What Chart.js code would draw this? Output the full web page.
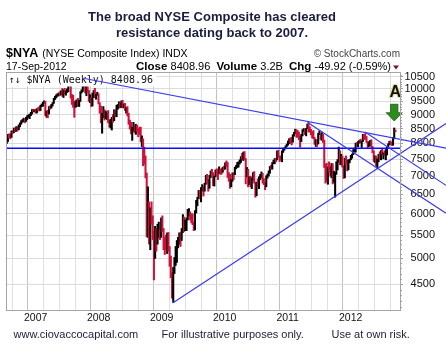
<!DOCTYPE html>
<html><head><meta charset="utf-8">
<script src="https://cdn.jsdelivr.net/npm/chart.js@4/dist/chart.umd.min.js"></script>
<style>html,body{margin:0;padding:0;background:#fff}#wrap{width:446px;height:352px}</style>
</head><body><div id="wrap"><canvas id="c" width="446" height="352"></canvas></div>
<script>
// ---------- DATA ----------
const titleLines = ['The broad NYSE Composite has cleared', 'resistance dating back to 2007.'];
const WEEK_START = '2006-07-17';           // first weekly bar (Monday)
// weekly bars: [high, low, close]
const w2006 = [[8180,7990,8100],[8300,8060,8280],[8320,8180,8250],[8310,8150,8200],[8420,8200,8400],[8430,8330,8370],[8520,8360,8500],[8520,8390,8430],[8570,8400,8550],[8570,8420,8460],[8630,8460,8610],[8700,8560,8680],[8780,8650,8760],[8820,8720,8790],[8870,8740,8840],[8850,8700,8760],[8900,8750,8850],[8960,8820,8940],[8990,8900,8960],[9020,8850,8980],[9080,8960,9040],[9190,9020,9180],[9200,9100,9130],[9180,9100,9140]];
const w2007 = [[9200,9050,9120],[9220,9060,9200],[9260,9170,9190],[9290,9130,9180],[9350,9150,9340],
[9400,9300,9360],[9470,9310,9460],[9520,9420,9480],[9500,8960,9010],
[9130,8900,9080],[9160,8880,9010],[9300,9020,9290],[9330,9200,9250],
[9380,9240,9370],[9450,9320,9440],[9620,9420,9600],[9700,9570,9650],[9760,9630,9740],
[9800,9690,9760],[9830,9720,9810],[9880,9720,9760],[9920,9760,9900],
[10010,9700,9780],[9960,9650,9950],[10020,9800,9830],[9920,9740,9850],
[10000,9850,9980],[10230,9880,10200],[10310,10120,10190],[10220,9620,9680],[9770,9380,9520],
[9740,9270,9400],[9480,8900,9280],[9520,9270,9480],[9560,9300,9520],
[9620,9330,9350],[9540,9300,9520],[9880,9500,9860],[9960,9830,9900],
[10150,9890,10130],[10250,10080,10140],[10190,9830,9850],[10100,9720,10080],[10390,9850,9920],
[9940,9500,9560],[9760,9450,9620],[9640,9300,9430],[9830,9320,9800],
[9930,9650,9920],[10020,9640,9720],[9780,9580,9760],[9860,9730,9790],[9800,9400,9420]];
const w2008 = [[9450,9050,9200],[9320,8700,8750],[9050,8340,9000],[9300,8880,9150],
[9180,8800,8880],[9130,8850,8960],[9060,8820,8990],[9150,8700,8720],
[8800,8550,8580],[8830,8520,8650],[8900,8450,8850],[9000,8720,8790],[9180,8780,9120],
[9170,8930,8960],[9350,8920,9300],[9380,9200,9350],[9480,9250,9420],
[9450,9250,9290],[9520,9260,9490],[9540,9250,9280],[9400,9250,9370],
[9420,9150,9180],[9260,9050,9200],[9300,8950,8990],[9050,8650,8700],[8800,8480,8560],
[8720,8320,8390],[8550,8100,8530],[8720,8400,8560],[8620,8350,8420],
[8650,8300,8600],[8620,8400,8470],[8500,8220,8420],[8550,8300,8340],
[8550,8050,8120],[8250,7900,8200],[8150,7300,7800],[7880,7350,7480],[7600,6950,7050],
[7090,5460,5600],[6700,5450,6000],[6300,5300,5500],[6150,5180,6100],
[6300,5750,5850],[5950,5400,5500],[5600,4580,5050],[5700,5000,5640],
[5650,5150,5500],[5750,5300,5560],[5800,5450,5600],[5620,5400,5520],[5900,5450,5860]];
const w2009 = [[5950,5580,5620],[5650,5180,5370],[5450,5080,5250],[5500,5180,5220],
[5550,5100,5480],[5560,5150,5230],[5250,4840,4880],[5050,4620,4650],
[4720,4250,4320],[4820,4180,4790],[5020,4700,4880],[5250,4860,5160],[5380,4920,5340],
[5450,5220,5420],[5550,5300,5510],[5560,5250,5480],[5650,5380,5580],
[5980,5560,5920],[5920,5580,5640],[5850,5600,5660],[5900,5600,5880],
[6110,5850,6020],[6130,5950,6070],[6050,5850,5910],[6000,5780,5900],[6000,5740,5760],
[5800,5600,5660],[6080,5620,6060],[6340,6020,6320],[6420,6200,6390],
[6600,6380,6540],[6600,6380,6500],[6680,6300,6660],[6760,6580,6690],[6700,6450,6600],
[6800,6580,6790],[7020,6770,6970],[7050,6790,6810],[6900,6580,6690],
[7020,6660,7000],[7150,6960,7110],[7200,6980,7060],[7100,6730,6780],
[7000,6720,6990],[7180,6980,7160],[7210,7050,7140],[7200,6900,7130],[7270,7080,7170],
[7200,7050,7150],[7220,7050,7110],[7260,7110,7250],[7290,7180,7184]];
const w2010 = [[7390,7200,7370],[7450,7270,7300],[7400,6960,7000],[7100,6850,6880],
[7050,6660,6800],[6900,6700,6860],[7090,6850,7080],[7100,6900,7050],
[7260,7040,7250],[7310,7210,7300],[7400,7250,7350],[7420,7260,7380],[7480,7350,7460],
[7580,7400,7560],[7680,7500,7530],[7720,7460,7700],[7740,7480,7500],
[7520,6780,7020],[7250,6980,7180],[7200,6700,6880],[6980,6760,6890],[7000,6700,6720],
[6950,6650,6900],[7100,6880,7060],[7130,6800,6800],[6820,6420,6470],
[6830,6460,6820],[6920,6700,6730],[6980,6650,6950],[7050,6900,6960],
[7120,6950,7080],[7080,6800,6830],[6930,6760,6790],[6820,6620,6770],[7010,6700,7000],
[7060,6940,7040],[7150,7000,7120],[7280,7080,7270],[7320,7200,7260],
[7400,7200,7390],[7470,7370,7440],[7520,7360,7480],[7530,7420,7470],
[7760,7480,7740],[7780,7550,7590],[7600,7430,7570],[7600,7470,7500],[7760,7420,7740],
[7830,7710,7810],[7860,7780,7830],[7920,7830,7920],[7980,7900,7964]];
const w2011 = [[8080,7940,8050],[8160,7990,8150],[8180,8000,8100],[8200,7950,8030],[8290,8040,8280],
[8370,8240,8350],[8480,8330,8460],[8460,8200,8330],[8430,8200,8320],
[8380,8120,8180],[8230,7880,8050],[8300,8060,8280],[8460,8250,8450],
[8500,8400,8455],[8460,8290,8350],[8510,8250,8500],[8660,8490,8640],
[8720,8380,8450],[8560,8380,8400],[8470,8280,8380],[8400,8180,8320],[8430,8150,8180],
[8200,7970,7980],[8120,7900,8000],[8120,7900,7990],[8340,7980,8330],
[8420,8290,8350],[8330,8120,8160],[8360,8100,8300],[8300,8030,8060],
[8110,7250,7300],[7350,6800,7200],[7380,6850,6900],[7260,6770,7200],[7420,7120,7180],
[7280,7000,7060],[7370,6950,7350],[7360,6780,6850],[7140,6830,6960],
[7100,6420,7060],[7420,7050,7400],[7490,7180,7450],[7880,7400,7780],[7760,7330,7550],
[7650,7330,7560],[7600,7260,7300],[7300,6930,6950],[7530,6950,7500],
[7600,7360,7450],[7480,7150,7200],[7480,7180,7450],[7500,7390,7477]];
const w2012 = [[7620,7480,7580],[7660,7530,7640],[7800,7640,7790],[7850,7720,7820],[8010,7720,8000],
[8030,7930,7960],[8060,7890,8050],[8100,8010,8070],[8140,8020,8060],
[8080,7870,8065],[8300,8060,8270],[8290,8130,8200],[8330,8130,8190],
[8230,8030,8050],[8060,7860,7950],[8050,7900,8000],[8100,7920,8060],[8120,7870,7880],
[7900,7700,7750],[7760,7430,7450],[7600,7400,7540],[7600,7290,7300],
[7510,7220,7500],[7650,7420,7630],[7730,7530,7570],[7770,7480,7760],
[7810,7640,7650],[7700,7510,7690],[7760,7610,7660],[7800,7480,7800],[7900,7630,7880],
[7990,7860,7980],[8070,7950,8050],[8080,7960,8000],[8030,7930,7990],
[8200,7940,8190],[8520,8150,8458.88],[8450,8390,8408.96]];

const yTickValues = [4500,5000,5500,6000,6500,7000,7500,8000,8500,9000,9500,10000,10500];
const xYearLabels = [2007,2008,2009,2010,2011,2012];
const xRange = [2006.529, 2012.783];     // decimal years
const yRange = [4050, 10710];

// trend lines: [decimal year, index value] endpoints
const lineHorizontal = [[2006.529, 7845], [2012.795, 7845]];
const lineFrom2007Top = [[2007.756, 10440], [2013.513, 7845]];
const lineFrom2011Top = [[2011.318, 8712], [2013.513, 6015]];
const lineFrom2012Top = [[2012.227, 8385], [2013.513, 6740]];
const lineFrom2009Low = [[2009.175, 4169], [2013.513, 8675]];

const headerRight = [['Close ', true], ['8408.96  ', false], ['Volume ', true], ['3.2B  ', false], ['Chg ', true], ['-49.92 (-0.59%)', false]];
const footerTexts = [['www.ciovaccocapital.com', 13.5], ['For illustrative purposes only.', 161.5], ['Use at own risk.', 331.5]];

// ---------- BUILD ----------
const weeks = [].concat(w2006, w2007, w2008, w2009, w2010, w2011, w2012);
function decYear(ms) {
  const d = new Date(ms); const y = d.getUTCFullYear();
  const s = Date.UTC(y, 0, 1), e = Date.UTC(y + 1, 0, 1);
  return y + (ms - s) / (e - s);
}
const t0 = Date.parse(WEEK_START + 'T00:00:00Z');
const xs = weeks.map((w, i) => decYear(t0 + i * 7 * 86400000));
const RED = '#d0103a', BLK = '#000000';
const points = weeks.map((w, i) => ({ x: xs[i], y: [w[1], w[0]] }));
const colors = weeks.map((w, i) => (i > 0 && w[2] < weeks[i - 1][2]) ? RED : BLK);
const lastClose = weeks[weeks.length - 1][2];

const quarterTicks = [];
for (let y = 2006; y <= 2012; y++) for (let q = 0; q < 4; q++) {
  const v = y + q / 4; if (v > xRange[0] && v < xRange[1]) quarterTicks.push(v);
}
const isYear = v => Math.abs(v - Math.round(v)) < 1e-6 && xYearLabels.includes(Math.round(v));
const FONT = '"Liberation Sans", Arial, sans-serif';

const overlay = {
  id: 'overlay',
  afterDatasetsDraw(chart) {
    const { ctx, chartArea: ca } = chart;
    const sx = chart.scales.x, sy = chart.scales.y;
    ctx.save();
    // legend box
    ctx.font = '10px "DejaVu Sans Mono", monospace';
    const label = '↑↓ $NYA (Weekly) ' + lastClose.toFixed(2);
    const tw = ctx.measureText(label).width;
    ctx.fillStyle = '#fff';
    ctx.fillRect(ca.left + 1, ca.top + 1, tw + 5, 13.5);
    ctx.fillStyle = '#111';
    ctx.textAlign = 'left'; ctx.textBaseline = 'alphabetic';
    ctx.fillText(label, ca.left + 2.5, ca.top + 10.5);
    // trend lines
    const P = p => [sx.getPixelForValue(p[0]), sy.getPixelForValue(p[1])];
    const drawLine = (l, col, lw) => {
      const a = P(l[0]), b = P(l[1]);
      ctx.strokeStyle = col; ctx.lineWidth = lw;
      ctx.beginPath(); ctx.moveTo(a[0], a[1]); ctx.lineTo(b[0], b[1]); ctx.stroke();
    };
    drawLine(lineHorizontal, '#0a0aff', 1.4);
    [lineFrom2007Top, lineFrom2011Top, lineFrom2012Top, lineFrom2009Low].forEach(l => drawLine(l, '#3a3af2', 1.2));
    // green arrow + "A" anchored above the highest of the last bars
    let idx = weeks.length - 1;
    for (let i = weeks.length - 3; i < weeks.length; i++) if (weeks[i][0] > weeks[idx][0]) idx = i;
    const ax = sx.getPixelForValue(xs[idx]);
    const tip = sy.getPixelForValue(weeks[idx][0]) - 7;
    ctx.beginPath();
    ctx.moveTo(ax - 3.7, tip - 16.7); ctx.lineTo(ax + 3.7, tip - 16.7); ctx.lineTo(ax + 3.7, tip - 8.3);
    ctx.lineTo(ax + 8, tip - 8.3); ctx.lineTo(ax, tip); ctx.lineTo(ax - 8, tip - 8.3); ctx.lineTo(ax - 3.7, tip - 8.3);
    ctx.closePath();
    ctx.fillStyle = '#2c8c1e'; ctx.fill();
    ctx.strokeStyle = '#1c6012'; ctx.lineWidth = 0.8; ctx.stroke();
    ctx.font = 'bold 16px ' + FONT; ctx.textAlign = 'center';
    ctx.lineWidth = 2.2; ctx.strokeStyle = '#e6dca8';
    ctx.strokeText('A', ax + 1, tip - 23.5);
    ctx.fillStyle = '#111'; ctx.fillText('A', ax + 1, tip - 23.5);
    ctx.restore();
  },
  afterDraw(chart) {
    const { ctx, chartArea: ca } = chart;
    const sy = chart.scales.y;
    ctx.save();
    // frame
    ctx.strokeStyle = '#a4a4a4'; ctx.lineWidth = 1;
    ctx.strokeRect(ca.left + 0.5, ca.top + 0.5, ca.right - ca.left, ca.bottom - ca.top);
    // minor ticks on right axis
    ctx.strokeStyle = '#a0a0a0';
    ctx.beginPath();
    for (let v = 4100; v <= 10600; v += 100) {
      if (v % 500 === 0) continue;
      const py = Math.round(sy.getPixelForValue(v)) + 0.5;
      ctx.moveTo(ca.right, py); ctx.lineTo(ca.right + 2, py);
    }
    ctx.stroke();
    // title
    ctx.fillStyle = '#1b1d3f'; ctx.textAlign = 'center'; ctx.textBaseline = 'alphabetic';
    ctx.font = 'bold 13px ' + FONT;
    ctx.fillText(titleLines[0], 212, 20.5);
    ctx.fillText(titleLines[1], 212, 36.5);
    // header row 1
    ctx.textAlign = 'left'; ctx.fillStyle = '#000';
    ctx.font = 'bold 12.5px ' + FONT;
    ctx.fillText('$NYA', 6, 57);
    const w1 = ctx.measureText('$NYA').width;
    ctx.font = '10.5px ' + FONT;
    ctx.fillText('(NYSE Composite Index) INDX', 6 + w1 + 4, 57);
    ctx.textAlign = 'right'; ctx.fillStyle = '#444'; ctx.font = '10px ' + FONT;
    ctx.fillText('© StockCharts.com', 400, 57);
    // header row 2
    ctx.textAlign = 'left'; ctx.fillStyle = '#000'; ctx.font = '10.5px ' + FONT;
    ctx.fillText('17-Sep-2012', 6, 70);
    const fontOf = b => (b ? 'bold 11.5px ' : '11px ') + FONT;
    let total = 0;
    headerRight.forEach(([t, b]) => { ctx.font = fontOf(b); total += ctx.measureText(t).width; });
    let hx = 391 - total;
    headerRight.forEach(([t, b]) => { ctx.font = fontOf(b); ctx.fillText(t, hx, 70); hx += ctx.measureText(t).width; });
    ctx.fillStyle = '#7a1030';
    ctx.beginPath(); ctx.moveTo(393, 65.5); ctx.lineTo(399, 65.5); ctx.lineTo(396, 69.5); ctx.closePath(); ctx.fill();
    // footer
    ctx.fillStyle = '#1c1c3c'; ctx.font = '11px ' + FONT; ctx.textAlign = 'left';
    footerTexts.forEach(([t, x]) => ctx.fillText(t, x, 338));
    ctx.restore();
  }
};

new Chart(document.getElementById('c'), {
  type: 'bar',
  data: { datasets: [{ data: points, backgroundColor: colors, borderWidth: 0, barThickness: 1.4 }] },
  options: {
    responsive: false, animation: false, devicePixelRatio: 1,
    layout: { padding: { top: 72, left: 6, right: 11, bottom: 0 } },
    plugins: { legend: { display: false }, tooltip: { enabled: false }, title: { display: false } },
    scales: {
      x: {
        type: 'linear', min: xRange[0], max: xRange[1], offset: false, bounds: 'data',
        afterBuildTicks: s => { s.ticks = quarterTicks.map(v => ({ value: v })); },
        afterFit: s => { s.height = 42; },
        grid: { color: c => (c.tick && isYear(c.tick.value)) ? '#c2c2c2' : '#e0e0e0', drawTicks: false },
        border: { display: false },
        ticks: { autoSkip: false, maxRotation: 0, minRotation: 0, padding: 2, color: '#111',
          font: { family: FONT, size: 10.5 },
          callback: v => isYear(v) ? String(Math.round(v)) : '' }
      },
      y: {
        type: 'logarithmic', position: 'right', min: yRange[0], max: yRange[1], bounds: 'data',
        afterBuildTicks: s => { s.ticks = yTickValues.map(v => ({ value: v })); },
        afterFit: s => { s.width = 35; },
        grid: { color: '#dcdcdc', tickColor: '#a0a0a0', tickLength: 3, drawTicks: true },
        border: { display: false },
        ticks: { autoSkip: false, padding: 2, crossAlign: 'far', color: '#111',
          font: { family: FONT, size: 11 }, callback: v => String(v) }
      }
    }
  },
  plugins: [overlay]
});
</script></body></html>
